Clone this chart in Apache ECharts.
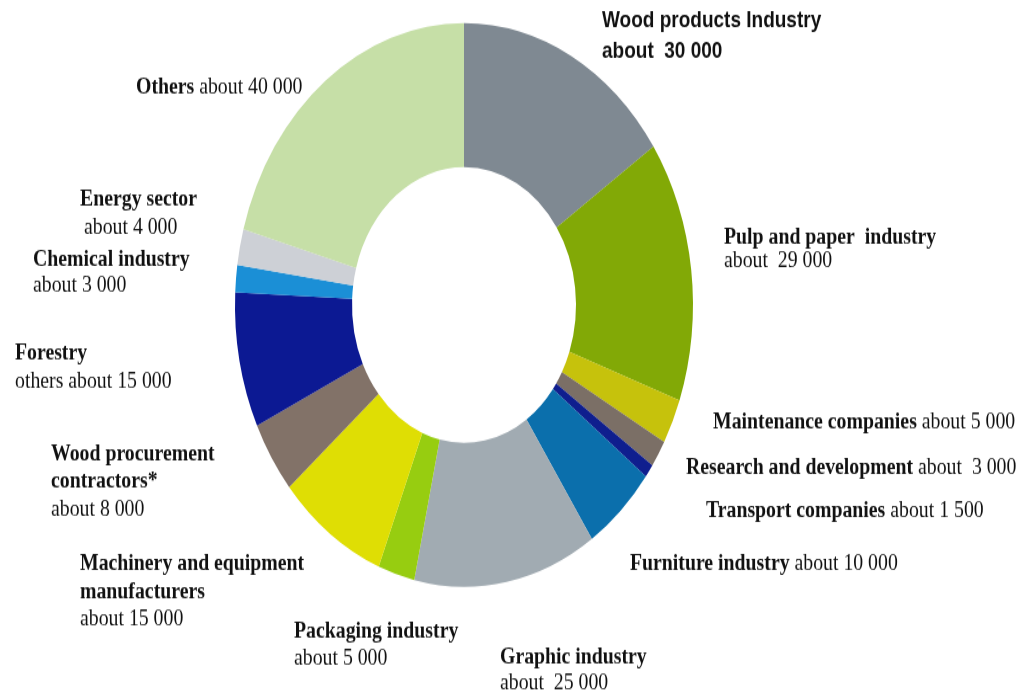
<!DOCTYPE html>
<html>
<head>
<meta charset="utf-8">
<script src="https://cdn.jsdelivr.net/npm/echarts@6/dist/echarts.min.js"></script>
<style>
  html, body { margin: 0; padding: 0; background: #fff; overflow: hidden; }
  #wrap { width: 1032px; height: 693px; overflow: hidden; }
  #chart { width: 1032px; height: 563px; transform-origin: 0 0; }
</style>
</head>
<body>
<div id="wrap"><div id="chart"></div></div>
<script>
// Employment by sector (clockwise from 12 o'clock)
const categories = [
  'Wood products Industry',
  'Pulp and paper  industry',
  'Maintenance companies',
  'Research and development',
  'Transport companies',
  'Furniture industry',
  'Graphic industry',
  'Packaging industry',
  'Machinery and equipment\nmanufacturers',
  'Wood procurement\ncontractors*',
  'Forestry',
  'Chemical industry',
  'Energy sector',
  'Others'
];
const values = [30000, 29000, 5000, 3000, 1500, 10000, 25000, 5000, 15000, 8000, 15000, 3000, 4000, 40000];
const valuePrefix = ['about  ', 'about  ', 'about ', 'about  ', 'about ', 'about ', 'about  ', 'about ',
  'about ', 'about ', 'others about ', 'about ', 'about ', 'about '];

// Presentation
const colors = ['#7f8992', '#82a906', '#c6c20c', '#7b6f66', '#0f1e8e', '#0b6fac', '#a1abb2', '#97cd10',
  '#dfde04', '#827268', '#0c1993', '#1b8fd6', '#cdd0d6', '#c6dfa7'];
const labelMode = ['stack', 'stack', 'inline', 'inline', 'inline', 'inline', 'stack', 'stack',
  'stack', 'stack', 'stack', 'stack', 'stack', 'inline'];
const labelFont = ['sans', 'serif', 'serif', 'serif', 'serif', 'serif', 'serif', 'serif',
  'serif', 'serif', 'serif', 'serif', 'serif', 'serif'];
// [x, first-line baseline, line spacing, indent of value line] in page pixels
const labelPos = [
  [602, 29, 30, 0], [724, 245, 23.5, 0], [713, 430, 28, 0], [686, 475, 28, 0],
  [706, 518, 28, 0], [630, 571, 28, 0], [500, 665, 25.5, 0], [294, 639, 27, 0],
  [80, 572, 27.5, 0], [51, 462, 27.5, 0], [15, 361, 28, 0], [33, 268, 25, 0],
  [80, 207, 28, 4], [136, 95, 28, 0]
];

const SY = 693 / 563;           // vertical stretch of the drawing
const FS = 19.8;                // serif label size
const el = document.getElementById('chart');
el.style.transform = 'scaleY(' + SY + ')';

function fmt(v) {
  return String(v).replace(/\B(?=(\d{3})+(?!\d))/g, ' ');
}

function richFor(i) {
  const lh = labelPos[i][2] / SY;
  const ind = labelPos[i][3];
  if (labelFont[i] === 'sans') {
    return {
      b: { fontFamily: 'Liberation Sans', fontWeight: 'bold', fontSize: 19, color: '#111', lineHeight: lh },
      n: { fontFamily: 'Liberation Sans', fontWeight: 'bold', fontSize: 19, color: '#111', lineHeight: lh }
    };
  }
  return {
    b: { fontFamily: 'Liberation Serif', fontWeight: 'bold', fontSize: FS, color: '#111', lineHeight: lh },
    n: { fontFamily: 'Liberation Serif', fontWeight: 'normal', fontSize: FS, color: '#111', lineHeight: lh },
    v: { fontFamily: 'Liberation Serif', fontWeight: 'normal', fontSize: FS, color: '#111', lineHeight: lh,
         padding: [0, 0, 0, ind] }
  };
}

const data = categories.map((name, i) => ({
  name: name,
  value: values[i],
  itemStyle: { color: colors[i] },
  label: { rich: richFor(i) }
}));

const chart = echarts.init(el, null, { renderer: 'canvas' });
chart.setOption({
  backgroundColor: '#ffffff',
  animation: false,
  series: [{
    type: 'pie',
    center: [464, 305 / SY],
    radius: [112, 229],
    startAngle: 90,
    clockwise: true,
    avoidLabelOverlap: false,
    silent: true,
    itemStyle: { borderWidth: 0 },
    labelLine: { show: false },
    label: {
      show: true,
      position: 'outside',
      formatter: function (p) {
        const i = p.dataIndex;
        const tag = labelPos[i][3] ? 'v' : 'n';
        const v = '{' + tag + '|' + valuePrefix[i] + fmt(values[i]) + '}';
        const nameLines = categories[i].split('\n').map(s => '{b|' + s + '}').join('\n');
        return labelMode[i] === 'inline' ? nameLines + '{n| }' + v : nameLines + '\n' + v;
      }
    },
    labelLayout: function (params) {
      const pos = labelPos[params.dataIndex];
      const lh = pos[2] / SY;
      const top = pos[1] / SY - lh / 2 - 0.32 * FS;
      return { x: pos[0], y: top, align: 'left', verticalAlign: 'top' };
    },
    data: data
  }]
});
</script>
</body>
</html>
